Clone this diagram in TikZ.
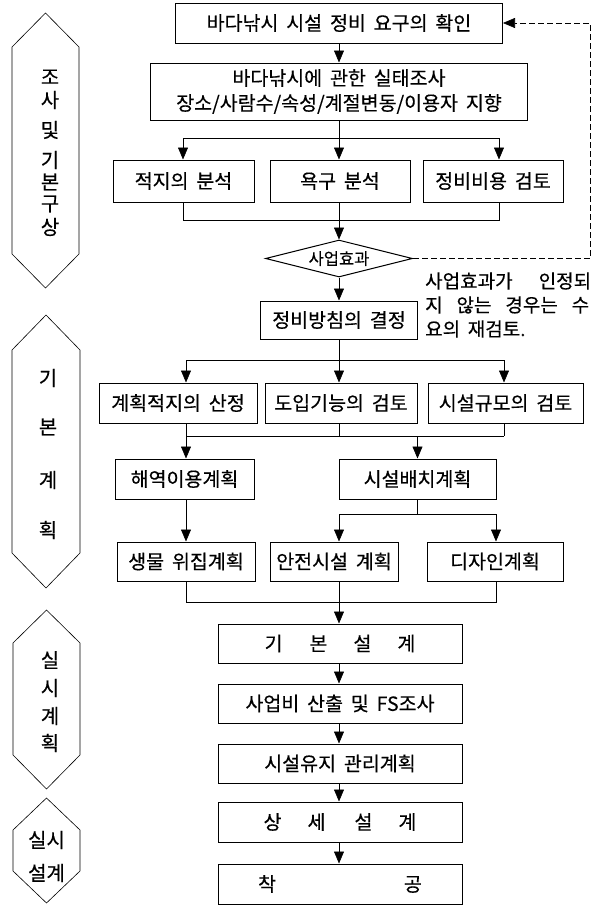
\documentclass[tikz,border=0pt]{standalone}
\usepackage{fontspec}
\setmainfont[WordSpace=1.8, UprightFeatures={FakeBold=0.4}]{Noto Sans CJK KR}
\usetikzlibrary{arrows.meta,shapes.geometric}
\begin{document}
\begin{tikzpicture}[x=1pt,y=-1pt,
  box/.style={draw, line width=1pt, inner sep=0pt, font=\fontsize{19.5}{24}\selectfont},
  conn/.style={line width=0.6pt},
  arr/.style={conn, -{Triangle[length=12pt,width=10pt]}},
  lbl/.style={font=\fontsize{20}{24}\selectfont, inner sep=0pt},
  note/.style={font=\fontsize{19}{24}\selectfont, inner sep=0pt, anchor=west},
  hexa/.style={line width=0.6pt}]
\useasboundingbox (0,0) rectangle (597,905);

% ---------- left hexagons ----------
\draw[hexa] (45.5,13) -- (79,47) -- (79,254) -- (45.5,288) -- (12,254) -- (12,47) -- cycle;
\draw[hexa] (46,315) -- (80,350) -- (80,553) -- (46,588) -- (12,553) -- (12,350) -- cycle;
\draw[hexa] (46.5,610) -- (80,643) -- (80,755) -- (46.5,789) -- (13,755) -- (13,643) -- cycle;
\draw[hexa] (46.5,798) -- (80,830) -- (80,871) -- (46.5,903) -- (13,871) -- (13,830) -- cycle;

\node[lbl] (h1a) at (50,77) {조};
\node[lbl] (h1b) at (50,100) {사};
\node[lbl] (h1c) at (50,130) {및};
\node[lbl] (h1d) at (50,160) {기};
\node[lbl] (h1e) at (50,182) {본};
\node[lbl] (h1f) at (50,204) {구};
\node[lbl] (h1g) at (50,227) {상};

\node[lbl] (h2a) at (48,378) {기};
\node[lbl] (h2b) at (48,427) {본};
\node[lbl] (h2c) at (48,480) {계};
\node[lbl] (h2d) at (48,530) {획};

\node[lbl] (h3a) at (50,660) {실};
\node[lbl] (h3b) at (50,688) {시};
\node[lbl] (h3c) at (50,716) {계};
\node[lbl] (h3d) at (50,743) {획};

\node[lbl] (h4a) at (46.5,840) {실시};
\node[lbl] (h4b) at (46.5,873) {설계};

% ---------- boxes ----------
\node[box, minimum width=327pt, minimum height=40pt] (b1) at (339,23) {바다낚시 시설 정비 요구의 확인};
\node[box, align=center, minimum width=377pt, minimum height=57pt, font=\fontsize{19.5}{25}\selectfont] (b2) at (339,91.5)
  {바다낚시에 관한 실태조사\\장소/사람수/속성/계절변동/이용자 지향};

\node[box, minimum width=141pt, minimum height=42pt] (r1a) at (183.5,181) {적지의 분석};
\node[box, minimum width=140pt, minimum height=42pt] (r1b) at (340,181) {욕구 분석};
\node[box, minimum width=140pt, minimum height=42pt] (r1c) at (493,181) {정비비용 검토};

\node[draw, diamond, aspect=4, line width=1pt, minimum width=147pt, minimum height=37pt, inner sep=0pt,
  font=\fontsize{16.5}{20}\selectfont] (dia) at (339,258.5) {사업효과};

\node[note] (n1) at (425,281) {\makebox[166pt][s]{사업효과가 인정되}};
\node[note] (n2) at (425,305) {\makebox[164pt][s]{지 않는 경우는 수}};
\node[note] (n3) at (425,329) {요의 재검토.};

\node[box, minimum width=157pt, minimum height=38pt] (b3) at (339,320) {정비방침의 결정};

\node[box, minimum width=158pt, minimum height=40pt] (r2a) at (178,403) {계획적지의 산정};
\node[box, minimum width=152pt, minimum height=40pt] (r2b) at (341,403) {도입기능의 검토};
\node[box, minimum width=155pt, minimum height=40pt] (r2c) at (505.5,403) {시설규모의 검토};

\node[box, minimum width=139pt, minimum height=40pt] (r3a) at (184.5,479) {해역이용계획};
\node[box, minimum width=157pt, minimum height=40pt] (r3b) at (417.5,479) {시설배치계획};

\node[box, minimum width=138pt, minimum height=39pt] (r4a) at (186,561.5) {생물 위집계획};
\node[box, minimum width=128pt, minimum height=39pt] (r4b) at (334,561.5) {안전시설 계획};
\node[box, minimum width=136pt, minimum height=39pt] (r4c) at (495,561.5) {디자인계획};

\node[box, minimum width=244pt, minimum height=39pt] (c1) at (340,643.5) {기\hspace{27pt}본\hspace{26pt}설\hspace{26pt}계};
\node[box, minimum width=244pt, minimum height=39pt] (c2) at (340,703.5) {사업비 산출 및 FS조사};
\node[box, minimum width=244pt, minimum height=39pt] (c3) at (340,763.5) {시설유지 관리계획};
\node[box, minimum width=244pt, minimum height=40pt] (c4) at (340,822) {상\hspace{26pt}세\hspace{29pt}설\hspace{26pt}계};
\node[box, minimum width=244pt, minimum height=40pt] (c5) at (340,884) {착\hspace{128pt}공};

% ---------- connectors ----------
\draw[arr] (b1) -- (b2);

\coordinate (s1) at (339,138);
\coordinate (s1a) at (183,138);
\coordinate (s1c) at (499,138);
\draw[conn] (b2.south) -- (s1);
\draw[conn] (s1a) -- (s1c);
\draw[arr] (s1a) -- (s1a |- r1a.north);
\draw[arr] (s1) -- (s1 |- r1b.north);
\draw[arr] (s1c) -- (s1c |- r1c.north);

\coordinate (m1a) at (183,220);
\coordinate (m1c) at (499,220);
\draw[conn] (m1a |- r1a.south) -- (m1a) -- (m1c) -- (m1c |- r1c.south);
\draw[arr] (dia.north |- r1b.south) -- (dia.north);

\coordinate (fb1) at (590,258.5);
\coordinate (fb2) at (590,23);
\draw[conn, dash pattern=on 6pt off 3pt, -{Triangle[length=12pt,width=10pt]}] (dia.east) -- (fb1) -- (fb2) -- (b1.east);

\draw[arr] (dia.south) -- (b3.north);

\coordinate (s2) at (339,360);
\coordinate (s2a) at (186,360);
\coordinate (s2c) at (504,360);
\draw[conn] (b3.south) -- (s2);
\draw[conn] (s2a) -- (s2c);
\draw[arr] (s2a) -- (s2a |- r2a.north);
\draw[arr] (s2) -- (s2 |- r2b.north);
\draw[arr] (s2c) -- (s2c |- r2c.north);

\coordinate (m2a) at (186,436);
\coordinate (m2b) at (339,436);
\coordinate (m2c) at (504,436);
\coordinate (m2d) at (417.5,436);
\draw[conn] (m2a) -- (m2c);
\draw[arr] (m2a |- r2a.south) -- (m2a |- r3a.north);
\draw[conn] (m2b |- r2b.south) -- (m2b);
\draw[conn] (m2c |- r2c.south) -- (m2c);
\draw[arr] (m2d) -- (r3b.north);

\draw[arr] (m2a |- r3a.south) -- (m2a |- r4a.north);

\coordinate (s3) at (417.5,514);
\coordinate (s3b) at (339,514);
\coordinate (s3c) at (496,514);
\draw[conn] (r3b.south) -- (s3);
\draw[conn] (s3b) -- (s3c);
\draw[arr] (s3b) -- (s3b |- r4b.north);
\draw[arr] (s3c) -- (s3c |- r4c.north);

\coordinate (m4a) at (186,602);
\coordinate (m4c) at (496,602);
\draw[conn] (m4a |- r4a.south) -- (m4a) -- (m4c) -- (m4c |- r4c.south);
\draw[arr] (s3b |- r4b.south) -- (s3b |- c1.north);

\draw[arr] (s3b |- c1.south) -- (s3b |- c2.north);
\draw[arr] (s3b |- c2.south) -- (s3b |- c3.north);
\draw[arr] (s3b |- c3.south) -- (s3b |- c4.north);
\draw[arr] (s3b |- c4.south) -- (s3b |- c5.north);
\end{tikzpicture}
\end{document}
